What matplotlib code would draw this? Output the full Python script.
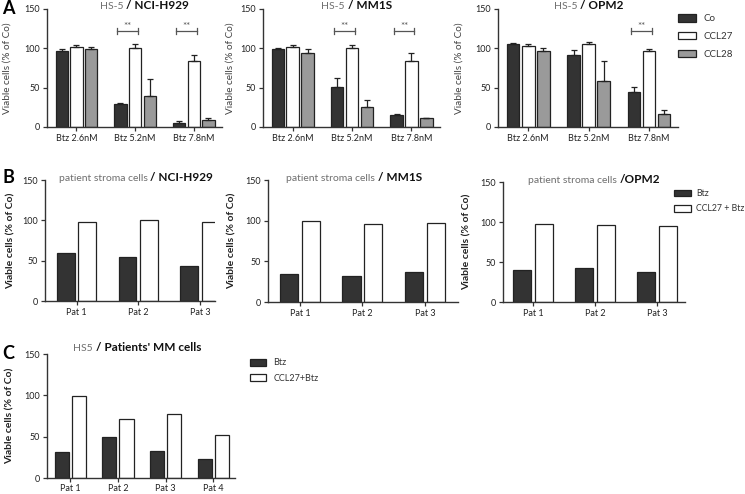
import numpy as np
import matplotlib.pyplot as plt

plt.rcParams['font.family'] = ['Lato', 'DejaVu Sans']

# Panel A data (viable cells, % of Co)
doses = ['Btz 2.6nM', 'Btz 5.2nM', 'Btz 7.8nM']
a_lines = ['NCI-H929', 'MM1S', 'OPM2']
a_co = [[97, 29, 5], [99, 51, 15], [105, 91, 44]]
a_co_err = [[2, 2, 3], [2, 11, 1], [2, 7, 7]]
a_ccl27 = [[102, 100, 84], [102, 101, 84], [103, 106, 97]]
a_ccl27_err = [[2, 6, 8], [2, 3, 10], [2, 2, 2]]
a_ccl28 = [[99, 39, 9], [94, 25, 11], [96, 59, 16]]
a_ccl28_err = [[3, 22, 2], [5, 9, 1], [4, 25, 6]]
a_signif = [[1, 2], [1, 2], [2]]

# Panel B data
b_pats = ['Pat 1', 'Pat 2', 'Pat 3']
b_titles = [('patient stroma cells ', '/ NCI-H929'),
            ('patient stroma cells ', '/ MM1S'),
            ('patient stroma cells ', '/OPM2')]
b_btz = [[60, 55, 44], [35, 32, 37], [40, 43, 38]]
b_ccl27 = [[98, 100, 98], [99, 96, 97], [98, 96, 95]]

# Panel C data
c_pats = ['Pat 1', 'Pat 2', 'Pat 3', 'Pat 4']
c_btz = [32, 50, 33, 23]
c_ccl27 = [99, 71, 77, 52]

W, H = 745, 494
fig = plt.figure(figsize=(W / 100, H / 100), dpi=100)

DARK = '#333333'
GREY = '#9a9a9a'
EDGE = '#222222'
LIGHT_TXT = '#6e6e6e'


def px_axes(left, top, right, bottom):
    return fig.add_axes([left / W, 1 - bottom / H, (right - left) / W, (bottom - top) / H])


def style_axes(ax, xlim, label_off, bold_label, xpad=2):
    ax.set_ylim(0, 150)
    ax.set_yticks([0, 50, 100, 150])
    ax.set_xlim(*xlim)
    for s in ['top', 'right']:
        ax.spines[s].set_visible(False)
    for s in ['left', 'bottom']:
        ax.spines[s].set_linewidth(1.0)
        ax.spines[s].set_color('#333333')
    ax.tick_params(axis='both', length=3, width=0.9, color='#333333',
                   labelsize=6.5, labelcolor='#222222', pad=2)
    ax.tick_params(axis='x', pad=xpad)
    ax.set_ylabel('Viable cells (% of Co)', fontsize=7.5 if bold_label else 7.2,
                  fontweight='bold' if bold_label else 'normal',
                  color='#222222' if bold_label else '#444444')
    width_px = ax.get_position().width * W
    ax.yaxis.set_label_coords(-label_off / width_px, 0.5)


def two_part_title(ax, x, y, light, bold, size_light=7.5, size_bold=8.5):
    t = ax.text(x, y, light, transform=ax.transAxes, color=LIGHT_TXT,
                fontsize=size_light, va='bottom', ha='left')
    ax.annotate(bold, xy=(1, 0), xycoords=t, va='bottom', ha='left',
                fontsize=size_bold, fontweight='bold', color='#111111')


# ---- Panel A ----
a_boxes = [(47, 9, 222, 127), (263, 9, 440, 127), (498, 9, 678, 127)]
a_title_x = [0.30, 0.33, 0.31]
a_label_off = [35, 28, 34]
x = np.arange(len(doses))
bw, off = 0.21, 0.25
for i, box in enumerate(a_boxes):
    ax = px_axes(*box)
    zeros = np.zeros(len(doses))
    kw = dict(width=bw, edgecolor=EDGE, linewidth=0.9, capsize=2.5,
              error_kw=dict(elinewidth=0.9, capthick=0.9, ecolor=EDGE))
    h1 = ax.bar(x - off, a_co[i], color=DARK, yerr=[zeros, a_co_err[i]], label='Co', **kw)
    h2 = ax.bar(x, a_ccl27[i], color='white', yerr=[zeros, a_ccl27_err[i]], label='CCL27', **kw)
    h3 = ax.bar(x + off, a_ccl28[i], color=GREY, yerr=[zeros, a_ccl28_err[i]], label='CCL28', **kw)
    for g in a_signif[i]:
        x0, x1, yb = g - off - 0.05, g + 0.05, 122
        ax.plot([x0, x1], [yb, yb], color='#555555', lw=0.9)
        ax.plot([x0, x0], [yb - 4, yb + 4], color='#555555', lw=0.9)
        ax.plot([x1, x1], [yb - 4, yb + 4], color='#555555', lw=0.9)
        ax.text((x0 + x1) / 2, yb + 0.5, '**', ha='center', va='bottom',
                fontsize=7, color='#555555')
    ax.set_xticks(x)
    ax.set_xticklabels(doses)
    style_axes(ax, (-0.5, 2.48), a_label_off[i], False)
    two_part_title(ax, a_title_x[i], 0.985, 'HS-5 ', '/ ' + a_lines[i])
    if i == 2:
        ax.legend(handles=[h1, h2, h3], loc='upper left', bbox_to_anchor=(0.98, 0.99),
                  frameon=False, fontsize=7, handlelength=1.8, handleheight=0.8,
                  handletextpad=0.8, labelspacing=0.9, borderaxespad=0,
                  labelcolor='#333333')

# ---- Panel B ----
b_boxes = [(45, 180, 215, 301), (268, 180, 458, 302), (503, 182, 685, 302)]
b_xlims = [(-0.51, 2.24), (-0.51, 2.53), (-0.48, 2.45)]
b_title_x = [0.08, 0.095, 0.14]
b_label_off = [29, 31, 31]
xb = np.arange(len(b_pats))
bwb, offb = 0.29, 0.175
for i, box in enumerate(b_boxes):
    ax = px_axes(*box)
    h1 = ax.bar(xb - offb, b_btz[i], width=bwb, color=DARK, edgecolor=EDGE, linewidth=0.9)
    h2 = ax.bar(xb + offb, b_ccl27[i], width=bwb, color='white', edgecolor=EDGE, linewidth=0.9)
    ax.set_xticks(xb)
    ax.set_xticklabels(b_pats)
    style_axes(ax, b_xlims[i], b_label_off[i], True)
    two_part_title(ax, b_title_x[i], 0.975, b_titles[i][0], b_titles[i][1],
                   size_light=7.5, size_bold=8.5)
    if i == 2:
        ax.legend([h1, h2], ['Btz', 'CCL27 + Btz'], loc='upper left',
                  bbox_to_anchor=(0.92, 0.97), frameon=False, fontsize=6.3,
                  handlelength=1.9, handleheight=0.8, handletextpad=0.6,
                  labelspacing=0.7, borderaxespad=0, labelcolor='#333333')

# ---- Panel C ----
ax = px_axes(47, 354, 235, 478)
xc = np.arange(len(c_pats))
h1 = ax.bar(xc - 0.18, c_btz, width=0.295, color=DARK, edgecolor=EDGE, linewidth=0.9)
h2 = ax.bar(xc + 0.18, c_ccl27, width=0.295, color='white', edgecolor=EDGE, linewidth=0.9)
ax.set_xticks(xc)
ax.set_xticklabels(c_pats)
style_axes(ax, (-0.49, 3.46), 32, True, xpad=1)
two_part_title(ax, 0.14, 1.01, 'HS5 ', "/ Patients' MM cells", size_light=7.5, size_bold=8.5)
ax.legend([h1, h2], ['Btz', 'CCL27+Btz'], loc='upper left',
          bbox_to_anchor=(1.06, 0.995), frameon=False, fontsize=6.5,
          handlelength=1.8, handleheight=0.8, handletextpad=0.8,
          labelspacing=0.7, borderaxespad=0, labelcolor='#333333')

# panel letters
for letter, ypx in [('A', 14), ('B', 183), ('C', 359)]:
    fig.text(2 / W, 1 - ypx / H, letter, fontsize=13, fontweight='bold', va='baseline')

fig.savefig('out.png', dpi=100, facecolor='white')
